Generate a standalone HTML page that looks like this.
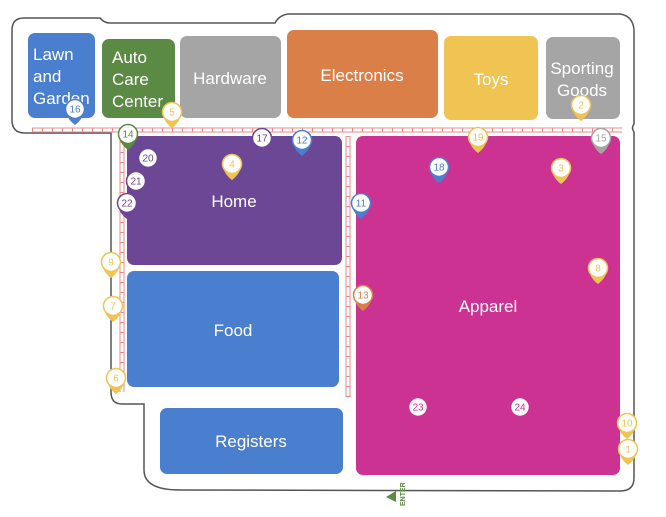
<!DOCTYPE html>
<html><head><meta charset="utf-8"><style>
html,body{margin:0;padding:0;background:#fff;}
svg{display:block;font-family:"Liberation Sans",sans-serif;}
</style></head><body>
<svg id="map" width="666" height="517" viewBox="0 0 666 517">
<path fill="none" stroke="#555" stroke-width="1.5"
 d="M24,18 L100,18 Q104,23 110,23 L275,23 Q280,14 290,14 L620,14 Q633,16 634,30 L634,124 Q631,128 634,132 L634,478 Q634,491 620,491 L180,490 Q144,490 144,470 L144,404 L122,404 Q111,404 111,392 L111,133 L25,133 Q12,133 12,120 L12,30 Q12,18 24,18 Z"/>
<g stroke="#e88" stroke-width="1" fill="none">
<line x1="32" y1="128" x2="622" y2="128"/><line x1="32" y1="132" x2="622" y2="132"/>
<line x1="32" y1="130" x2="622" y2="130" stroke-width="4" stroke-dasharray="1,9"/>
<line x1="120" y1="132" x2="120" y2="392"/><line x1="124" y1="132" x2="124" y2="392"/>
<line x1="122" y1="132" x2="122" y2="392" stroke-width="4" stroke-dasharray="1,9"/>
<line x1="346" y1="136" x2="346" y2="397"/><line x1="350" y1="136" x2="350" y2="397"/>
<line x1="348" y1="136" x2="348" y2="397" stroke-width="4" stroke-dasharray="1,9"/>
</g>
<g fill="#fff" font-size="17" text-anchor="middle">
<g><rect x="28" y="33" width="67" height="85" rx="7" fill="#4a7fcf"/><text x="33" y="60" text-anchor="start" fill="#fff">Lawn</text><text x="33" y="82" text-anchor="start" fill="#fff">and</text><text x="33" y="104" text-anchor="start" fill="#fff">Garden</text></g>
<g><rect x="102" y="39" width="73" height="79" rx="7" fill="#5b8a44"/><text x="112" y="63" text-anchor="start" fill="#fff">Auto</text><text x="112" y="85" text-anchor="start" fill="#fff">Care</text><text x="112" y="107" text-anchor="start" fill="#fff">Center</text></g>
<g><rect x="180" y="36" width="101" height="82" rx="7" fill="#a5a5a5"/><text x="230" y="84" fill="#fff">Hardware</text></g>
<g><rect x="287" y="30" width="151" height="88" rx="7" fill="#d97f47"/><text x="362" y="81" fill="#fff">Electronics</text></g>
<g><rect x="444" y="36" width="94" height="84" rx="7" fill="#f0c453"/><text x="491" y="85" fill="#fff">Toys</text></g>
<g><rect x="546" y="37" width="74" height="82" rx="7" fill="#a5a5a5"/><text x="582" y="74" fill="#fff">Sporting</text><text x="582" y="96" fill="#fff">Goods</text></g>
<g><rect x="127" y="136" width="215" height="129" rx="7" fill="#6c4795"/><text x="234" y="207" fill="#fff">Home</text></g>
<g><rect x="127" y="271" width="212" height="116" rx="7" fill="#4a7fcf"/><text x="233" y="336" fill="#fff">Food</text></g>
<g><rect x="160" y="408" width="183" height="66" rx="7" fill="#4a7fcf"/><text x="251" y="447" fill="#fff">Registers</text></g>
<g><rect x="356" y="136" width="264" height="339" rx="7" fill="#cc3291"/><text x="488" y="312" fill="#fff">Apparel</text></g>
</g>
<g><polygon points="386,497 396,491 396,502" fill="#5b8a44"/><text x="0" y="0" transform="translate(405,506) rotate(-90)" font-size="7" font-weight="bold" fill="#5b8a44">ENTER</text></g>
<g id="pins"></g>
</svg>
<script>
const pinLabels=[16,5,14,17,12,20,4,21,22,19,2,15,18,3,11,9,7,6,13,8,23,24,10,1];
const pinX=[75,172,128,262,302,148,232,136,127,478,581,601,439,561,361,111,113,116,363,598,418,520,627,628];
const pinY=[109,112,134,138,140,158,164,181,203,137,105,138,167,168,203,262,306,378,295,268,407,407,423,449];
const pinColors=["#4a7fcf","#f0c453","#5b8a44","#6c4795","#4a7fcf","#6c4795","#f0c453","#6c4795","#6c4795","#f0c453","#f0c453","#a5a5a5","#4a7fcf","#f0c453","#4a7fcf","#f0c453","#f0c453","#f0c453","#d97f47","#f0c453","#cc3291","#cc3291","#f0c453","#f0c453"];
const NS="http://www.w3.org/2000/svg";
const g=document.getElementById('pins');
pinLabels.forEach((lab,i)=>{
  const x=pinX[i],y=pinY[i],c=pinColors[i];
  const pg=document.createElementNS(NS,'g');
  
  
  const tail=document.createElementNS(NS,'path');
  tail.setAttribute('d',`M${x-9},${y+2} Q${x-8},${y+10} ${x},${y+16} Q${x+8},${y+10} ${x+9},${y+2} Z`);
  tail.setAttribute('fill',c);
  pg.appendChild(tail);
  const circ=document.createElementNS(NS,'circle');
  circ.setAttribute('cx',x);circ.setAttribute('cy',y);circ.setAttribute('r',9.5);
  circ.setAttribute('fill','#fff');circ.setAttribute('stroke',c);circ.setAttribute('stroke-width',1.5);
  pg.appendChild(circ);
  const t=document.createElementNS(NS,'text');
  t.setAttribute('x',x);t.setAttribute('y',y+3.5);t.setAttribute('text-anchor','middle');
  t.setAttribute('font-size','10');t.setAttribute('fill',c);
  t.textContent=lab;
  pg.appendChild(t);
  g.appendChild(pg);
});
</script>
</body></html>
